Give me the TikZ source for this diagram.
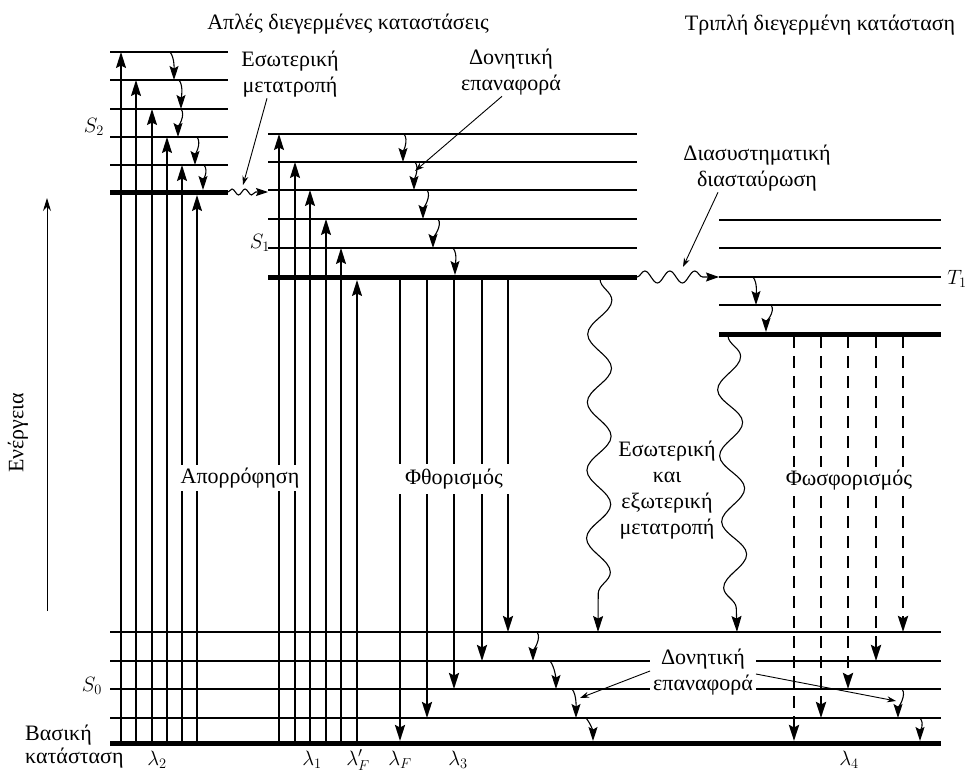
\documentclass[tikz,border=0pt]{standalone}
\usepackage{fontspec}
\setmainfont{Liberation Serif}
\usetikzlibrary{arrows.meta,decorations.pathmorphing}

\begin{document}
\begin{tikzpicture}[x=1pt,y=-1pt,
  font=\fontsize{22}{26}\selectfont,
  every node/.style={inner sep=1pt},
  lvl/.style={line width=1.3pt},
  base/.style={line width=5pt},
  tip/.style={-{Stealth[length=16pt,width=10pt,inset=2.5pt]}},
  absorb/.style={line width=1.4pt,tip},
  fluor/.style={line width=2.3pt,tip},
  phos/.style={line width=2.8pt,dash pattern=on 12pt off 8pt,tip},
  relax/.style={line width=1.1pt,-{Stealth[length=14pt,width=9pt,inset=2.5pt]}},
  wave/.style={line width=1.1pt,decorate},
  pointer/.style={line width=0.9pt,-{Stealth[length=9pt,width=6pt]}},
  gap/.style={fill=white,inner xsep=#1,inner ysep=3pt},
  gap/.default=3pt]
\useasboundingbox (0,0) rectangle (972,773);

% energy levels
\foreach \y in {52,80,109,137,165} \draw[lvl] (110,\y) -- (228,\y);
\draw[base] (110,192) -- (228,192);
\foreach \y in {134,162,190,219,248} \draw[lvl] (268,\y) -- (637,\y);
\draw[base] (268,277) -- (637,277);
\foreach \y in {220,248,277,305} \draw[lvl] (719,\y) -- (941,\y);
\draw[base] (719,334) -- (941,334);
\foreach \y in {632,661,689,718} \draw[lvl] (110,\y) -- (941,\y);
\draw[base] (110,743) -- (941,743);

% absorption
\foreach \x/\y in {121/52,136/80,152/109,167/137,182/165,197/195,
                   279/134,295/162,310/190,326/219,341/248,357/280}
  \draw[absorb] (\x,741) -- (\x,\y);

% fluorescence
\foreach \x/\y in {400/741,427/718,454/689,482/661,508/632}
  \draw[fluor] (\x,279) -- (\x,\y);

% phosphorescence
\foreach \x/\y in {794/741,821/718,848/689,876/661,903/632}
  \draw[phos] (\x,336) -- (\x,\y);

% vibrational relaxation
\foreach \a/\b/\c/\d in {170/52/174/80,179/80/181/109,181/109/178/137,
    197/137/195/165,204/165/203/190,
    404/134/403/162,415/162/414/190,427/190/423/219,438/219/433/248,453/248/455/275,
    753/277/756/305,771/305/766/332,
    537/632/533/661,550/661/556/689,572/689/576/718,586/718/593/741,
    902/689/898/718,920/718/920/741}
  \draw[relax] (\a,\b) .. controls +(5,6) and +(0,-9) .. (\c,\d);

% internal conversion, intersystem crossing
\draw[wave,decoration={snake,amplitude=12pt,segment length=68pt,post length=14pt},tip]
  (600,279) -- (598,632);
\draw[wave,decoration={snake,amplitude=12pt,segment length=66pt,post length=14pt},tip]
  (728,336) -- (737,632);
\draw[wave,decoration={snake,amplitude=3pt,segment length=13pt,post length=12pt},
  -{Stealth[length=12pt,width=8pt,inset=2pt]}] (228,192) -- (268,192);
\draw[wave,decoration={snake,amplitude=6pt,segment length=25pt,post length=16pt},
  -{Stealth[length=13pt,width=9pt,inset=2pt]}] (637,277) -- (719,277);

% energy axis
\coordinate (eLow) at (47,611);
\coordinate (eHigh) at (47,198);
\draw[line width=1pt,-{Stealth[length=13pt,width=8pt]}] (eLow) -- (eHigh);
\node[rotate=90] (energy) at (18,433) {Ενέργεια};

% labels
\node (singlets) at (348,24) {Απλές διεγερμένες καταστάσεις};
\node (triplet) at (820,25) {Τριπλή διεγερμένη κατάσταση};
\node[align=center] (intconv) at (290,74) {Εσωτερική\\μετατροπή};
\node[align=center] (vibtop) at (511,72) {Δονητική\\επαναφορά};
\node[align=center] (isc) at (757,168) {Διασυστηματική\\διασταύρωση};
\node[align=center] (icext) at (667,490) {Εσωτερική\\και\\εξωτερική\\μετατροπή};
\node[gap] (lblAbs) at (240,478) {Απορρόφηση};
\node[gap=8pt,inner ysep=5pt] (lblFluor) at (454,479) {Φθορισμός};
\node[gap=5pt] (lblPhos) at (849,480) {Φωσφορισμός};
\node[gap,align=center] (vibbot) at (703,672) {Δονητική\\επαναφορά};

% pointers
\coordinate (icTip) at (243,185);
\coordinate (vtTip) at (415,171);
\coordinate (iscTip) at (683,267);
\coordinate (vbLeft) at (580,698);
\coordinate (vbRight) at (896,701);
\draw[pointer] ([xshift=-23pt]intconv.south) -- (icTip);
\draw[pointer] ([xshift=-9pt]vibtop.south) -- (vtTip);
\draw[pointer] ([xshift=-39pt]isc.south) -- (iscTip);
\draw[pointer] ([yshift=1pt]vibbot.west) -- (vbLeft);
\draw[pointer] ([yshift=-2pt]vibbot.east) -- (vbRight);

% states
\node (S2) at (94,127) {$S_2$};
\node (S1) at (260,243) {$S_1$};
\node (S0) at (92,686) {$S_0$};
\node (T1) at (957,279) {$T_1$};
\node[anchor=west] (groundA) at (24,735) {Βασική};
\node[anchor=west] (groundB) at (24,758) {κατάσταση};

% wavelengths
\node (lamTwo) at (157,760) {$\lambda_2$};
\node (lamOne) at (312,760) {$\lambda_1$};
\node (lamFp) at (358,760) {$\lambda'_F$};
\node (lamF) at (400,760) {$\lambda_F$};
\node (lamThree) at (458,760) {$\lambda_3$};
\node (lamFour) at (849,760) {$\lambda_4$};
\end{tikzpicture}
\end{document}
